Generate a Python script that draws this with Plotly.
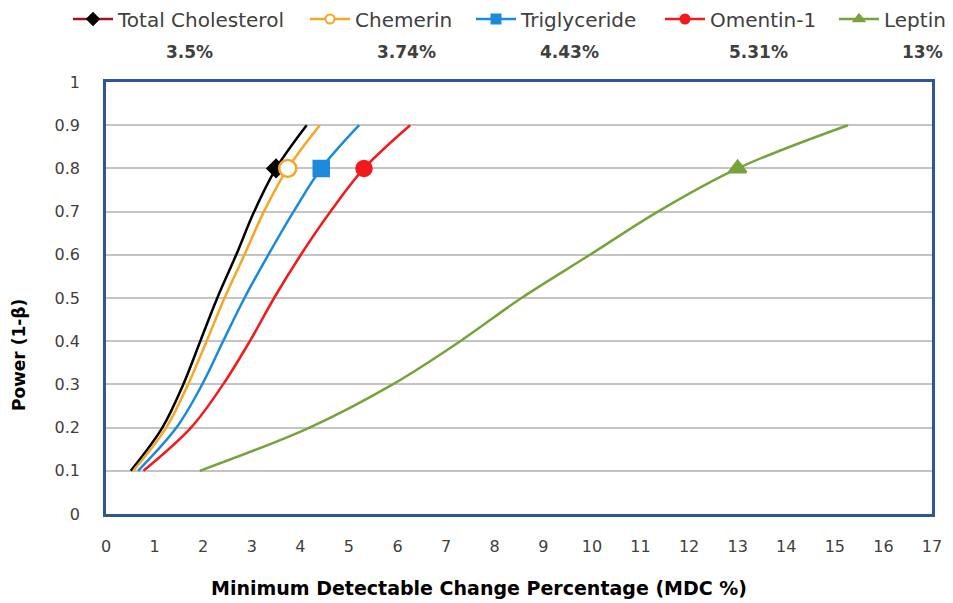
import plotly.graph_objects as go

power = [0.1, 0.2, 0.3, 0.4, 0.5, 0.6, 0.7, 0.8, 0.9]

total_chol = [0.51, 1.16, 1.59, 1.94, 2.29, 2.68, 3.05, 3.50, 4.13]
chemerin = [0.56, 1.24, 1.69, 2.07, 2.44, 2.85, 3.25, 3.74, 4.40]
triglyceride = [0.66, 1.45, 1.98, 2.41, 2.85, 3.34, 3.86, 4.43, 5.21]
omentin = [0.77, 1.75, 2.41, 2.96, 3.46, 4.01, 4.62, 5.31, 6.26]
leptin = [1.93, 4.19, 5.90, 7.29, 8.55, 9.96, 11.36, 13.0, 15.27]

names = ["Total Cholesterol", "Chemerin", "Triglyceride", "Omentin-1", "Leptin"]
mdc_labels = ["3.5%", "3.74%", "4.43%", "5.31%", "13%"]
x_ticks = list(range(0, 18))
y_ticks = [0, 0.1, 0.2, 0.3, 0.4, 0.5, 0.6, 0.7, 0.8, 0.9, 1]
y_ticktext = ["0", "0.1", "0.2", "0.3", "0.4", "0.5", "0.6", "0.7", "0.8", "0.9", "1"]
x_title = "Minimum Detectable Change Percentage (MDC %)"
y_title = "Power (1-β)"

series = [total_chol, chemerin, triglyceride, omentin, leptin]
line_colors = ["#000000", "#F5A623", "#1C8ADB", "#F21A1A", "#77A33A"]
legend_line_colors = ["#A0161B", "#F5A623", "#1C8ADB", "#F21A1A", "#77A33A"]
marker_syms = ["diamond", "circle", "square", "circle", "triangle-up"]
marker_fill = ["#000000", "#FFFFFF", "#1C8ADB", "#F21A1A", "#77A33A"]
marker_size = [13, 17, 15, 15, 15]

MARK_LEVEL = 0.8

W, H = 945, 595
ML, MR, MT, MB = 98, 21, 74, 89
PW, PH = W - ML - MR, H - MT - MB
FONT = "DejaVu Sans"

# page-pixel left edges of each legend entry and centres of the % labels
legend_px = [68, 305, 471, 660, 834]
ann_px = [189, 406, 569, 758, 922]


def px_to_paper_x(px):
    return (px - 8 - ML) / PW


def py_to_paper_y(py):
    return (H - MB - (py - 8)) / PH


fig = go.Figure()
for i, (nm, xs) in enumerate(zip(names, series)):
    fig.add_trace(go.Scatter(
        x=xs, y=power, mode="lines", name=nm, showlegend=False,
        line=dict(color=line_colors[i], width=2.5, shape="spline", smoothing=1.0),
        hoverinfo="skip"))
for i, (nm, xs) in enumerate(zip(names, series)):
    idx = power.index(MARK_LEVEL)
    fig.add_trace(go.Scatter(
        x=[xs[idx]], y=[power[idx]], mode="markers", showlegend=False,
        marker=dict(symbol=marker_syms[i], size=marker_size[i], color=marker_fill[i],
                    line=dict(color=line_colors[i], width=2.5))))

legend_layout = {}
for i, nm in enumerate(names):
    key = "legend" if i == 0 else "legend%d" % (i + 1)
    fig.add_trace(go.Scatter(
        x=[None], y=[None], mode="lines+markers", name=nm, legend=key,
        line=dict(color=legend_line_colors[i], width=2.5),
        marker=dict(symbol=marker_syms[i], size=9, color=marker_fill[i],
                    line=dict(color=line_colors[i], width=2))))
    legend_layout[key] = dict(
        orientation="h", xref="container", yref="container",
        x=(legend_px[i] - 8) / W, y=1 - (19 - 8) / H, xanchor="left", yanchor="middle",
        font=dict(family=FONT, size=20, color="#404040"),
        itemwidth=40, bgcolor="rgba(0,0,0,0)")

for lbl, px in zip(mdc_labels, ann_px):
    fig.add_annotation(x=px_to_paper_x(px), y=py_to_paper_y(52),
                       xref="paper", yref="paper",
                       text="<b>" + lbl + "</b>", showarrow=False,
                       font=dict(family=FONT, size=17, color="#404040"),
                       xanchor="center", yanchor="middle")

# axis titles (offset from plot centre as in the original)
fig.add_annotation(x=px_to_paper_x(479), y=py_to_paper_y(588), xref="paper", yref="paper",
                   text="<b>" + x_title + "</b>", showarrow=False,
                   font=dict(family=FONT, size=19, color="#000000"),
                   xanchor="center", yanchor="middle")
fig.add_annotation(x=px_to_paper_x(19), y=py_to_paper_y(355), xref="paper", yref="paper",
                   text="<b>" + y_title + "</b>", showarrow=False, textangle=-90,
                   font=dict(family=FONT, size=17, color="#000000"),
                   xanchor="center", yanchor="middle")

fig.update_layout(
    width=W, height=H,
    margin=dict(l=ML, r=MR, t=MT, b=MB),
    paper_bgcolor="white", plot_bgcolor="white",
    font=dict(family=FONT, color="#404040"),
    xaxis=dict(range=[0, 17], tickvals=x_ticks, showgrid=False, zeroline=False,
               showline=True, linecolor="#2F5597", linewidth=2.5, mirror=True,
               ticks="", tickfont=dict(family=FONT, size=16, color="#404040"),
               ticklabelstandoff=16),
    yaxis=dict(range=[0, 1], tickvals=y_ticks, ticktext=y_ticktext, showgrid=True,
               gridcolor="#C4C4C4", gridwidth=2, zeroline=False,
               showline=True, linecolor="#2F5597", linewidth=2.5, mirror=True,
               ticks="", tickfont=dict(family=FONT, size=16, color="#404040"),
               ticklabelstandoff=20),
    **legend_layout,
)

fig.write_html("out.html")
